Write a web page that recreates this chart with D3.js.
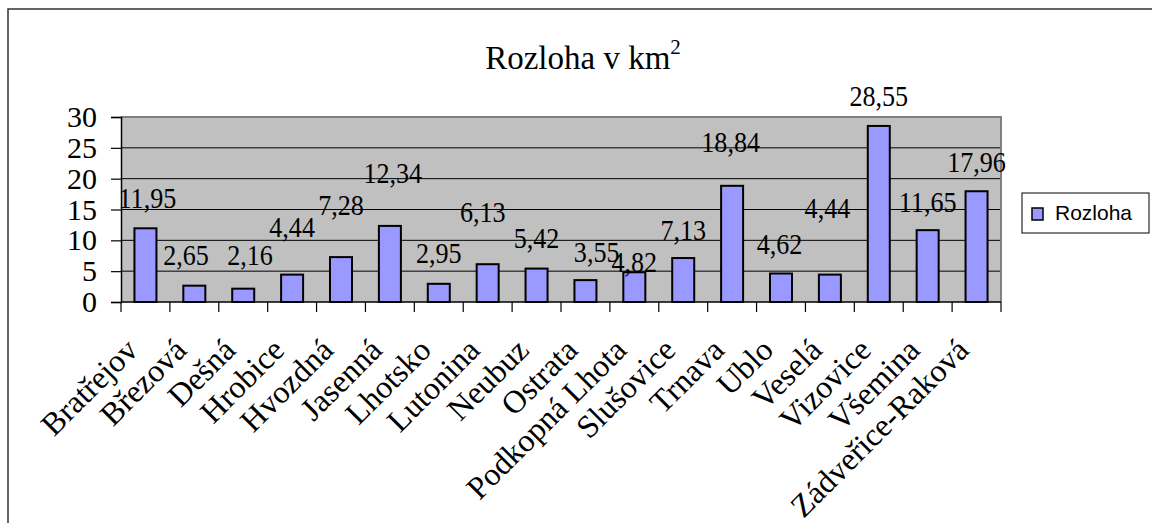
<!DOCTYPE html>
<html><head><meta charset="utf-8">
<script src="https://cdn.jsdelivr.net/npm/d3@7"></script>
<style>body{margin:0;background:#fff;overflow:hidden}svg{display:block}</style>
</head><body><svg id="c" width="1152" height="523"></svg>
<script>
const categories = ["Bratřejov","Březová","Dešná","Hrobice","Hvozdná","Jasenná","Lhotsko","Lutonina","Neubuz","Ostrata","Podkopná Lhota","Slušovice","Trnava","Ublo","Veselá","Vizovice","Všemina","Zádveřice-Raková"];
const values = [11.95,2.65,2.16,4.44,7.28,12.34,2.95,6.13,5.42,3.55,4.82,7.13,18.84,4.62,4.44,28.55,11.65,17.96];
const yTicks = [0,5,10,15,20,25,30];
const seriesName = "Rozloha";
const titleMain = "Rozloha v km";
const titleSup = "2";
// data-label placement (km² units, band fractions)
const labelAt = [15.2,6.0,6.0,10.5,14.1,19.3,6.3,13.0,8.8,6.5,4.9,10.0,24.3,7.8,13.6,31.8,14.6,21.1];
const labelShift = [0.04,-0.17,0.14,0,0,0.06,0,-0.1,0,0.23,0,0,-0.03,-0.03,-0.05,0,0,0];

const svg = d3.select("#c");
const serif = "'Liberation Serif','Times New Roman',serif";
const sans = "'Liberation Sans',Arial,sans-serif";
const plot = {left:121, right:1001, top:117, bottom:302};

// outer frame
svg.append("rect").attr("x",8).attr("y",9).attr("width",1170).attr("height",540)
  .attr("fill","#fff").attr("stroke","#333").attr("stroke-width",1.5);

const x = d3.scaleBand().domain(categories).range([plot.left, plot.right]).paddingInner(0).paddingOuter(0);
const y = d3.scaleLinear().domain([0,30]).range([plot.bottom, plot.top]);
const bw = x.bandwidth();

// plot background
svg.append("rect").attr("x",plot.left).attr("y",plot.top)
  .attr("width",plot.right-plot.left).attr("height",plot.bottom-plot.top)
  .attr("fill","#C0C0C0");
// gridlines
svg.append("g").selectAll("line").data(yTicks.filter(t=>t>0 && t<30)).join("line")
  .attr("x1",plot.left).attr("x2",plot.right)
  .attr("y1",d=>y(d)).attr("y2",d=>y(d))
  .attr("stroke","#000").attr("stroke-width",1);
// top & right border (gray)
svg.append("path")
  .attr("d",`M${plot.left},${plot.top}H${plot.right}V${plot.bottom}`)
  .attr("fill","none").attr("stroke","#808080").attr("stroke-width",2);

// bars
const barW = bw*0.45;
svg.append("g").selectAll("rect").data(values).join("rect")
  .attr("x",(d,i)=>x(categories[i]) + (bw-barW)/2)
  .attr("y",d=>y(d))
  .attr("width",barW)
  .attr("height",d=>y(0)-y(d))
  .attr("fill","#9999FF").attr("stroke","#000").attr("stroke-width",2);

// y axis
const yAxis = d3.axisLeft(y).tickValues(yTicks).tickSize(10).tickPadding(14).tickFormat(d3.format("d"));
const gy = svg.append("g").attr("transform",`translate(${plot.left},0)`).call(yAxis);
gy.select(".domain").attr("stroke","#000").attr("stroke-width",1.5);
gy.selectAll(".tick line").attr("stroke","#000").attr("stroke-width",1.2);
gy.selectAll(".tick text").attr("font-family",serif).attr("font-size",30).attr("fill","#000");

// x axis line & ticks at band boundaries
svg.append("line").attr("x1",plot.left).attr("x2",plot.right)
  .attr("y1",plot.bottom).attr("y2",plot.bottom).attr("stroke","#000").attr("stroke-width",1.5);
const bounds = categories.map(c=>x(c)).concat([x.range()[1]]);
svg.append("g").selectAll("line").data(bounds).join("line")
  .attr("x1",d=>d).attr("x2",d=>d).attr("y1",plot.bottom).attr("y2",plot.bottom+10)
  .attr("stroke","#000").attr("stroke-width",1.2);
// x labels
svg.append("g").selectAll("text").data(categories).join("text")
  .attr("transform",d=>`translate(${x(d)+bw/2-6},${plot.bottom+50}) rotate(-45)`)
  .attr("text-anchor","end")
  .attr("font-family",serif).attr("font-size",32).attr("fill","#000")
  .text(d=>d);

// data labels
const fmt = v => d3.format(".2f")(v).replace(".",",");
svg.append("g").selectAll("text").data(values).join("text")
  .attr("transform",(d,i)=>`translate(${x(categories[i])+bw/2+labelShift[i]*bw},${y(labelAt[i])}) scale(0.9,1)`)
  .attr("text-anchor","middle")
  .attr("font-family",serif).attr("font-size",29).attr("fill","#000")
  .text(d=>fmt(d));

// title
const title = svg.append("text").attr("x",583).attr("y",69).attr("text-anchor","middle")
  .attr("font-family",serif).attr("font-size",33).attr("fill","#000");
title.append("tspan").text(titleMain);
title.append("tspan").attr("font-size",21).attr("dy",-15).text(titleSup);

// legend
const lg = svg.append("g");
lg.append("rect").attr("x",1022).attr("y",193).attr("width",127).attr("height",40)
  .attr("fill","#fff").attr("stroke","#000").attr("stroke-width",1);
lg.append("rect").attr("x",1032).attr("y",208).attr("width",11).attr("height",12)
  .attr("fill","#9999FF").attr("stroke","#000").attr("stroke-width",1.5);
lg.append("text").attr("x",1055).attr("y",220).attr("font-family",sans).attr("font-size",21)
  .attr("fill","#000").text(seriesName);
</script></body></html>
